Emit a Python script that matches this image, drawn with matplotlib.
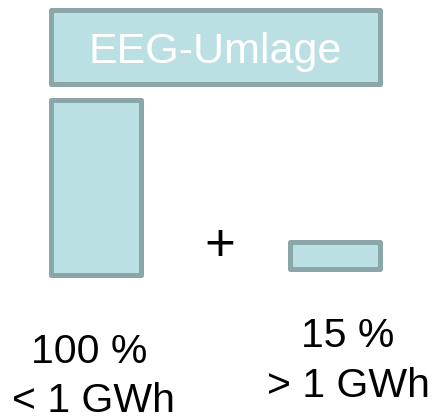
import matplotlib
matplotlib.use("Agg")
import matplotlib.pyplot as plt
from matplotlib.patches import Rectangle

# Share of the levy paid, by consumption band
bands = ["< 1 GWh", "> 1 GWh"]
shares = [100, 15]
share_labels = ["100 %", "15 %"]
header = "EEG-Umlage"

W, H = 440, 418
fig = plt.figure(figsize=(W / 100, H / 100), dpi=100)
plt.rcParams["font.family"] = ["Liberation Sans", "DejaVu Sans"]

ax = fig.add_axes([0, 0, 1, 1])
px_per_unit = 1.75
base_px = 143.5
ax.set_xlim(0, W)
ax.set_ylim(-base_px / px_per_unit, (H - base_px) / px_per_unit)
ax.axis("off")

fill = "#bbe0e3"
edge = "#8aa6a8"
lw = 3.6

xpos = [95.5, 334.5]
bottoms = [0, 3.4]
ax.bar(xpos, shares, width=90, bottom=bottoms, color=fill, edgecolor=edge,
       linewidth=lw, joinstyle="round")

# Header box
ax.add_patch(Rectangle((50.5, 109.1), 329, 41.8, facecolor=fill, edgecolor=edge,
                       linewidth=lw, joinstyle="round"))
fig.text(215 / W, 355 / H, header, color="white", fontsize=31,
         ha="center", va="baseline")

# Plus sign between the bars
fig.text(220 / W, (H - 247) / H, "+", fontsize=38, ha="center", va="center",
         color="black")

# Labels under the bars
fs = 29.5
fig.text(89 / W, 54.7 / H, share_labels[0], fontsize=fs, ha="center", va="baseline")
fig.text(93 / W, 6.5 / H, bands[0], fontsize=fs, ha="center", va="baseline")
fig.text(347.5 / W, 71.3 / H, share_labels[1], fontsize=fs, ha="center", va="baseline")
fig.text(348 / W, 21.3 / H, bands[1], fontsize=fs, ha="center", va="baseline")

fig.savefig("out.png", dpi=100, facecolor="white")
